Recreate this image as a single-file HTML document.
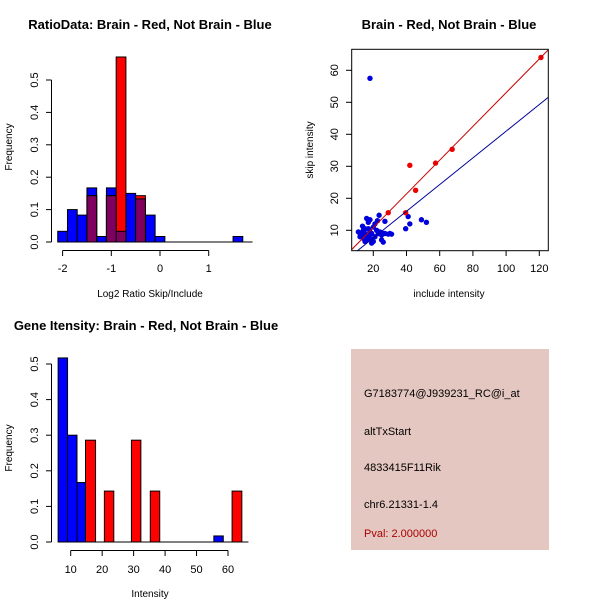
<!DOCTYPE html>
<html><head><meta charset="utf-8"><style>
body{margin:0;background:#fff}
svg{display:block;font-family:"Liberation Sans",sans-serif}
</style></head><body>
<svg id="c" width="600" height="600" xmlns="http://www.w3.org/2000/svg"></svg>
<script>
// Panel 1: ratio histogram [left, right, freq]
const ratioBlueBins=[[-2.1,-1.9,0.033],[-1.9,-1.7,0.1],[-1.7,-1.5,0.083],[-1.5,-1.3,0.167],[-1.3,-1.1,0.017],[-1.1,-0.9,0.167],[-0.9,-0.7,0.033],[-0.7,-0.5,0.15],[-0.5,-0.3,0.133],[-0.3,-0.1,0.083],[-0.1,0.1,0.017],[1.5,1.7,0.017]];
const ratioRedBins=[[-1.5,-1.3,0.143],[-1.1,-0.9,0.143],[-0.9,-0.7,0.571],[-0.5,-0.3,0.143]];
const ratioXTicks=[-2,-1,0,1];
const freqTicks1=[0,0.1,0.2,0.3,0.4,0.5];
// Panel 2: scatter
const redPts=[[121,64],[67.5,35.3],[57.5,31],[42,30.3],[45.5,22.5],[29,15.5],[39.5,15.5]];
const bluePts=[[18,57.5],[41,14.3],[42,12],[39.5,10.5],[49,13.3],[52,12.5],[23.5,14.7],[27,12.8],[22.5,13],[16,13.7],[17,12.5],[18,13.3],[11,9.5],[12,9],[13,8],[14,10],[13.5,11.3],[15,9],[16,7],[17,8],[18,9.5],[19,7],[20,6.5],[21,8],[22,10],[23,9],[24,9.5],[25,8.5],[26,9],[26,6.3],[27,9],[29,8.8],[31,8.8],[30,9],[15,6.5],[14,7.5],[20,11],[21,12],[25,7],[19,9],[17,10.5],[12,8],[16,8.5],[18,7.5],[15,10.5],[19,6]];
const redLine=[0.527,0.3];
const blueLine=[0.417,-0.74];
const scatXTicks=[20,40,60,80,100,120];
const scatYTicks=[10,20,30,40,50,60];
// Panel 3: intensity histogram
const intBlueBins=[[6,9,0.517],[9,12,0.3],[12,15,0.167],[55.5,58.5,0.017]];
const intRedBins=[[14.7,17.9,0.286],[20.7,23.7,0.143],[29.3,32.3,0.286],[35.3,38.3,0.143],[61.3,64.4,0.143]];
const intXTicks=[10,20,30,40,50,60];
const freqTicks3=[0,0.1,0.2,0.3,0.4,0.5];

const svg=document.getElementById('c');
const NS='http://www.w3.org/2000/svg';
function el(t,a,txt){const e=document.createElementNS(NS,t);for(const k in a)e.setAttribute(k,a[k]);if(txt!==undefined)e.textContent=txt;svg.appendChild(e);return e;}
function txt(x,y,s,o){o=o||{};const a={x:x,y:y,'font-size':o.size||11,'text-anchor':o.anchor||'middle',fill:o.fill||'#000'};if(o.bold)a['font-weight']='bold';if(o.rot)a.transform='rotate(-90 '+x+' '+y+')';return el('text',a,s);}

// Titles
let t=txt(150,29,'RatioData: Brain - Red, Not Brain - Blue',{size:13,bold:true});

t=txt(449,29,'Brain - Red, Not Brain - Blue',{size:13,bold:true});

t=txt(146,330,'Gene Itensity: Brain - Red, Not Brain - Blue',{size:13,bold:true});


// ----- Panel 1
const x1=v=>160+v*48.7, y1=v=>242-v*324;
function histBar(xf,yf,b,fill,name){const r=el('rect',{x:xf(b[0]),y:yf(b[2]),width:xf(b[1])-xf(b[0]),height:yf(0)-yf(b[2]),fill:fill,stroke:'#000','stroke-width':1});}
ratioBlueBins.forEach(b=>histBar(x1,y1,b,'#0000ff','ratio-blue-bar'));
ratioRedBins.forEach(b=>histBar(x1,y1,b,'#ff0000','ratio-red-bar'));
ratioRedBins.forEach(b=>{const m=ratioBlueBins.find(q=>Math.abs(q[0]-b[0])<1e-6);if(m){histBar(x1,y1,[b[0],b[1],Math.min(m[2],b[2])],'#800060','ratio-overlap-bar');}});
el('line',{x1:x1(-2.1),x2:x1(1.9),y1:y1(0),y2:y1(0),stroke:'#000'});
el('line',{x1:x1(-2),x2:x1(1),y1:250.5,y2:250.5,stroke:'#000'});
ratioXTicks.forEach(v=>{el('line',{x1:x1(v),x2:x1(v),y1:250.5,y2:256,stroke:'#000'});txt(x1(v),272,String(v).replace('-','-'));});
el('line',{x1:51.5,x2:51.5,y1:y1(0),y2:y1(0.5),stroke:'#000'});
freqTicks1.forEach(v=>{el('line',{x1:46,x2:51.5,y1:y1(v),y2:y1(v),stroke:'#000'});txt(38,y1(v),v.toFixed(1),{rot:true});});
txt(150,297,'Log2 Ratio Skip/Include',{size:10});
txt(12,147,'Frequency',{size:10,rot:true});

// ----- Panel 2
const x2=v=>373.3+(v-20)*1.66, y2=v=>230.3-(v-10)*3.2;
el('defs',{}).innerHTML='<clipPath id="cp"><rect x="351.7" y="49.3" width="196.6" height="201.4"/></clipPath>';
const g=el('g',{'clip-path':'url(#cp)'});
function lineFor(p,col,name){const l=document.createElementNS(NS,'line');l.setAttribute('x1',x2(0));l.setAttribute('y1',y2(p[1]));l.setAttribute('x2',x2(140));l.setAttribute('y2',y2(p[0]*140+p[1]));l.setAttribute('stroke',col);g.appendChild(l);}
bluePts.forEach(p=>{const c=el('circle',{cx:x2(p[0]),cy:y2(p[1]),r:2.7,fill:'#0000dd'});});
lineFor(redLine,'#cc0000','red-fit-line');
lineFor(blueLine,'#000099','blue-fit-line');
redPts.forEach(p=>{const c=el('circle',{cx:x2(p[0]),cy:y2(p[1]),r:2.7,fill:'#ee0000'});});
svg.appendChild(g);
el('rect',{x:351.7,y:49.3,width:196.6,height:201.4,fill:'none',stroke:'#000'});
scatXTicks.forEach(v=>{el('line',{x1:x2(v),x2:x2(v),y1:250.7,y2:256,stroke:'#000'});txt(x2(v),272,String(v));});
scatYTicks.forEach(v=>{el('line',{x1:346,x2:351.7,y1:y2(v),y2:y2(v),stroke:'#000'});txt(338,y2(v),String(v),{rot:true});});
txt(449,297,'include intensity',{size:10});
txt(313,150,'skip intensity',{size:10,rot:true});

// ----- Panel 3
const x3=v=>70.7+(v-10)*3.146, y3=v=>542-v*356;
intBlueBins.forEach(b=>histBar(x3,y3,b,'#0000ff','intensity-blue-bar'));
intRedBins.forEach(b=>histBar(x3,y3,b,'#ff0000','intensity-red-bar'));
el('line',{x1:x3(6),x2:x3(66.5),y1:y3(0),y2:y3(0),stroke:'#000'});
el('line',{x1:x3(10),x2:x3(60),y1:550.5,y2:550.5,stroke:'#000'});
intXTicks.forEach(v=>{el('line',{x1:x3(v),x2:x3(v),y1:550.5,y2:556,stroke:'#000'});txt(x3(v),573,String(v));});
el('line',{x1:51.5,x2:51.5,y1:y3(0),y2:y3(0.5),stroke:'#000'});
freqTicks3.forEach(v=>{el('line',{x1:46,x2:51.5,y1:y3(v),y2:y3(v),stroke:'#000'});txt(38,y3(v),v.toFixed(1),{rot:true});});
txt(150,597,'Intensity',{size:10});
txt(12,448,'Frequency',{size:10,rot:true});

// ----- Panel 4
const box=el('rect',{x:351,y:349,width:198,height:201,fill:'#e5c7c1'});

[['G7183774@J939231_RC@i_at',397,'#000','probe-id'],['altTxStart',435,'#000','event-type'],['4833415F11Rik',471,'#000','gene-name'],['chr6.21331-1.4',508,'#000','location'],['Pval: 2.000000',537,'#aa0000','p-value']].forEach(r=>{const e=txt(364,r[1],r[0],{anchor:'start',fill:r[2]});});
</script>
</body></html>
